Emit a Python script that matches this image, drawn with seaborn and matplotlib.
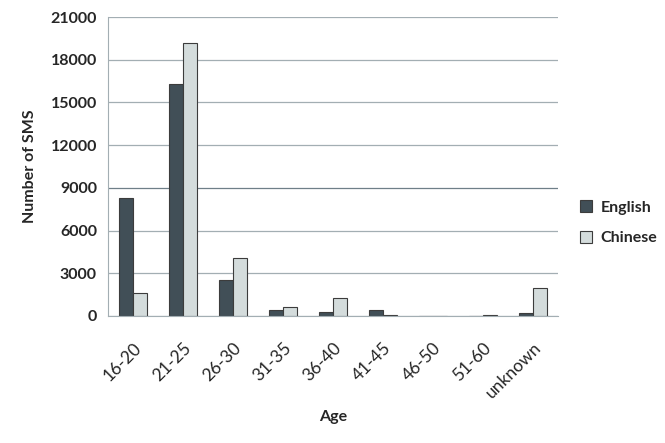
#!/usr/bin/env python3
"""Number of SMS by sender age, English vs Chinese corpus."""

import matplotlib
matplotlib.use("Agg")
import matplotlib.pyplot as plt
import numpy as np
import pandas as pd
import seaborn as sns

age_groups = ["16-20", "21-25", "26-30", "31-35", "36-40", "41-45", "46-50", "51-60", "unknown"]
english_sms = [8300, 16300, 2560, 420, 310, 400, 30, 0, 190]
chinese_sms = [1650, 19200, 4100, 630, 1290, 70, 0, 40, 1950]
languages = ["English", "Chinese"]
y_ticks = [0, 3000, 6000, 9000, 12000, 15000, 18000, 21000]

colors = {"English": "#414f57", "Chinese": "#d4dcdc"}

df = pd.DataFrame({
    "Age": age_groups * 2,
    "Language": ["English"] * len(age_groups) + ["Chinese"] * len(age_groups),
    "Count": english_sms + chinese_sms,
})

sns.set_style("white")
plt.rcParams["font.family"] = ["Lato", "DejaVu Sans"]

fig = plt.figure(figsize=(6.65, 4.43), dpi=100)
ax = fig.add_axes([0.1624, 0.2867, 0.6767, 0.6749])

sns.barplot(
    data=df, x="Age", y="Count", hue="Language", hue_order=languages,
    order=age_groups, palette=colors, width=0.55, ax=ax,
    edgecolor="#3c3c3c", linewidth=0.8, saturation=1, legend=False,
)

ax.set_ylim(0, 21000)
ax.set_xlim(-0.5, len(age_groups) - 0.5)
ax.set_yticks(y_ticks)
ax.set_yticklabels([str(v) for v in y_ticks], fontweight="bold", fontsize=11.5)
ax.yaxis.grid(True, color="#a3aeb3", linewidth=0.9)
ax.set_axisbelow(True)
# the 9000 line is drawn a shade darker in the original
ax.yaxis.get_gridlines()[3].set_color("#6f7f88")

ax.set_xticks(range(len(age_groups)))
ax.set_xticklabels(age_groups, rotation=45, ha="right", rotation_mode="anchor", fontsize=12.5)
ax.set_xticks(np.arange(-0.5, len(age_groups)), minor=True)
ax.tick_params(axis="x", which="major", length=0, pad=17)
ax.tick_params(axis="x", which="minor", length=5, color="#a3aeb3")
ax.tick_params(axis="y", length=5, color="#a3aeb3", pad=3)

for side in ["top", "right"]:
    ax.spines[side].set_visible(False)
ax.spines["left"].set_color("#a3aeb3")
ax.spines["bottom"].set_color("#a3aeb3")

ax.set_xlabel("Age", fontweight="bold", fontsize=11.5, labelpad=6)
ax.set_ylabel("Number of SMS", fontweight="bold", fontsize=11.5, labelpad=10)

handles = [plt.Rectangle((0, 0), 1, 1, facecolor=colors[l], edgecolor="#3c3c3c", linewidth=0.8)
           for l in languages]
leg = fig.legend(
    handles, languages, loc="center left", bbox_to_anchor=(0.85, 0.497),
    frameon=False, handlelength=0.8, handleheight=0.8, labelspacing=1.0,
    handletextpad=0.5, prop={"weight": "bold", "size": 11.5},
)

fig.savefig("out.png", dpi=100)
